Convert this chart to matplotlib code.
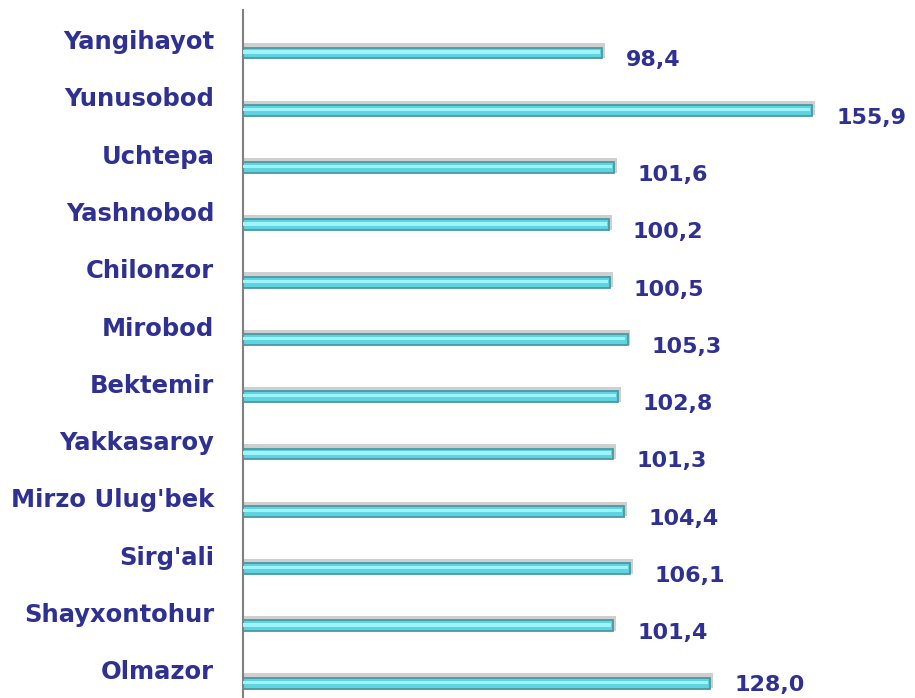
import matplotlib.pyplot as plt

districts = ['Yangihayot', 'Yunusobod', 'Uchtepa', 'Yashnobod', 'Chilonzor', 'Mirobod',
             'Bektemir', 'Yakkasaroy', "Mirzo Ulug'bek", "Sirg'ali", 'Shayxontohur', 'Olmazor']
values = [98.4, 155.9, 101.6, 100.2, 100.5, 105.3, 102.8, 101.3, 104.4, 106.1, 101.4, 128.0]

text_color = '#2E3192'
plt.rcParams['font.family'] = ['DejaVu Sans']

fig = plt.figure(figsize=(9.15, 6.98), dpi=100)
ax = fig.add_axes([243 / 915, 0, 1 - 243 / 915, 1])

y = list(range(len(districts)))
h = 0.19

# soft shadow behind the bars
ax.barh([i - 0.04 for i in y], [v + 0.8 for v in values], height=h + 0.07,
        color='#a0a0a0', alpha=0.5, linewidth=0, zorder=1)
ax.barh(y, values, height=h, color='#5fd3e0', edgecolor='#4a98a3', linewidth=1.3, zorder=2)
# highlight stripe
ax.barh([i - 0.015 for i in y], [v - 0.6 for v in values], height=h * 0.3,
        color='#9ef4fb', linewidth=0, zorder=3)

for i, (name, v) in enumerate(zip(districts, values)):
    ax.text(-7.9, i - 0.19, name, ha='right', va='center', fontsize=17.5,
            fontweight='bold', color=text_color, clip_on=False)
    # keep the last label inside the figure
    ty = min(i + 0.13, 11.04)
    ax.text(v + 6.5, ty, f'{v:.1f}'.replace('.', ','), ha='left', va='center',
            fontsize=16, fontweight='bold', color=text_color)

ax.set_xlim(0, 184)
ax.set_ylim(11.26, -0.925)
for s in ['top', 'right', 'bottom']:
    ax.spines[s].set_visible(False)
ax.spines['left'].set_bounds(-0.75, 11.26)
ax.spines['left'].set_color('#808080')
ax.spines['left'].set_linewidth(1.5)
ax.set_xticks([])
ax.set_yticks([])

fig.savefig('out.png', dpi=100)
